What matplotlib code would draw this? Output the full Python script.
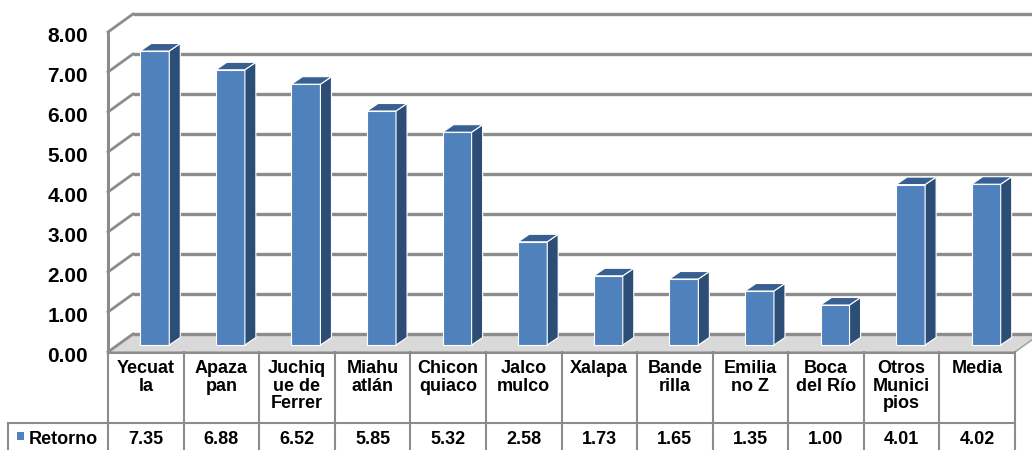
import matplotlib.pyplot as plt
import matplotlib.transforms as mtransforms
from matplotlib.patches import Polygon, Rectangle

plt.rcParams['font.family'] = ['Liberation Sans', 'DejaVu Sans']
plt.rcParams['font.weight'] = 'bold'

# data
categories = ['Yecuat\nla', 'Apaza\npan', 'Juchiq\nue de\nFerrer', 'Miahu\natlán',
              'Chicon\nquiaco', 'Jalco\nmulco', 'Xalapa', 'Bande\nrilla',
              'Emilia\nno Z', 'Boca\ndel Río', 'Otros\nMunici\npios', 'Media']
retorno = [7.35, 6.88, 6.52, 5.85, 5.32, 2.58, 1.73, 1.65, 1.35, 1.00, 4.01, 4.02]
series_name = 'Retorno'
yticks = [0, 1, 2, 3, 4, 5, 6, 7, 8]

# layout in pixels
W, H = 1032, 450
x0_px, x1_px = 108, 1015
base_px = 352
unit_px = 40
colw = (x1_px - x0_px) / len(categories)

front_col = '#4F81BD'
side_col = '#2C4D75'
top_col = '#385F92'
wall_col = '#8C8C8C'

fig = plt.figure(figsize=(W / 100, H / 100), dpi=100)
ax = fig.add_axes([x0_px / W, (H - base_px) / H, (W - x0_px) / W, base_px / H])
ax.set_xlim(-0.5, -0.5 + (W - x0_px) / colw)
ax.set_ylim(0, base_px / unit_px)
for s in ax.spines.values():
    s.set_visible(False)

n = len(categories)
xl, xr = -0.5, n - 0.5
top = yticks[-1]
# depth of the 3d box
dx = 25 / colw
dy = 18 / unit_px

# floor
ax.add_patch(Polygon([(xl, 0), (xr, 0), (xr + dx, dy), (xl + dx, dy)], closed=True,
                     facecolor='#d9d9d9', edgecolor='#a6a6a6', lw=1.2, zorder=1, clip_on=False))
# back wall grid + left wall grid
for v in yticks:
    ax.plot([xl + dx, xr + dx + 1], [v + dy, v + dy], color=wall_col, lw=2.4, zorder=1,
            solid_capstyle='butt', clip_on=True)
    ax.plot([xl, xl + dx], [v, v + dy], color=wall_col, lw=2.0, zorder=1, clip_on=False)
ax.plot([xl, xl], [0, top], color=wall_col, lw=2.2, zorder=1, clip_on=False)

# bars
fx = 9 / colw
fy = 7 / unit_px
bw = 29 / colw
bdx = 11 / colw
bdy = 7.5 / unit_px
xs = [i + fx for i in range(n)]
ax.bar(xs, retorno, width=bw, bottom=fy, color=front_col, edgecolor='white',
       lw=0.8, zorder=3)
for x, v in zip(xs, retorno):
    r = x + bw / 2
    l = x - bw / 2
    ax.add_patch(Polygon([(r, fy), (r + bdx, fy + bdy), (r + bdx, v + fy + bdy), (r, v + fy)],
                         closed=True, facecolor=side_col, edgecolor='white', lw=0.8, zorder=3))
    ax.add_patch(Polygon([(l, v + fy), (r, v + fy), (r + bdx, v + fy + bdy), (l + bdx, v + fy + bdy)],
                         closed=True, facecolor=top_col, edgecolor='white', lw=0.8, zorder=3))

ax.set_xticks([])
ax.set_yticks(yticks)
ax.set_yticklabels([f'{v:.2f}' for v in yticks], fontsize=15, fontweight='bold')
ax.tick_params(axis='y', length=0, pad=14.4)
shift = mtransforms.ScaledTranslation(0, -3 / 100, fig.dpi_scale_trans)
for lbl in ax.get_yticklabels():
    lbl.set_transform(lbl.get_transform() + shift)

# data table
tab = fig.add_axes([0, 0, 1, (H - base_px) / H])
tab.set_xlim(0, W)
tab.set_ylim(H, base_px)
tab.axis('off')
row_y = 423
grid = '#8C8C8C'
for i in range(n + 1):
    b = x0_px + i * colw
    tab.plot([b, b], [base_px, H], color=grid, lw=1.5, clip_on=False)
tab.plot([x0_px, x1_px], [base_px + 0.5, base_px + 0.5], color=grid, lw=1.5)
tab.plot([8, x1_px], [row_y, row_y], color=grid, lw=1.5)
tab.plot([8, 8], [row_y, H], color=grid, lw=1.5)
for i, (c, v) in enumerate(zip(categories, retorno)):
    cx = x0_px + (i + 0.5) * colw
    tab.text(cx, 360, c, ha='center', va='top', fontsize=13, fontweight='bold', linespacing=1.05)
    tab.text(cx, 439, f'{v:.2f}', ha='center', va='center', fontsize=13, fontweight='bold')
tab.add_patch(Rectangle((17, 432), 7, 8, facecolor=front_col, edgecolor='none'))
tab.text(29, 439, series_name, ha='left', va='center', fontsize=13, fontweight='bold')

fig.savefig('out.png', dpi=100)
